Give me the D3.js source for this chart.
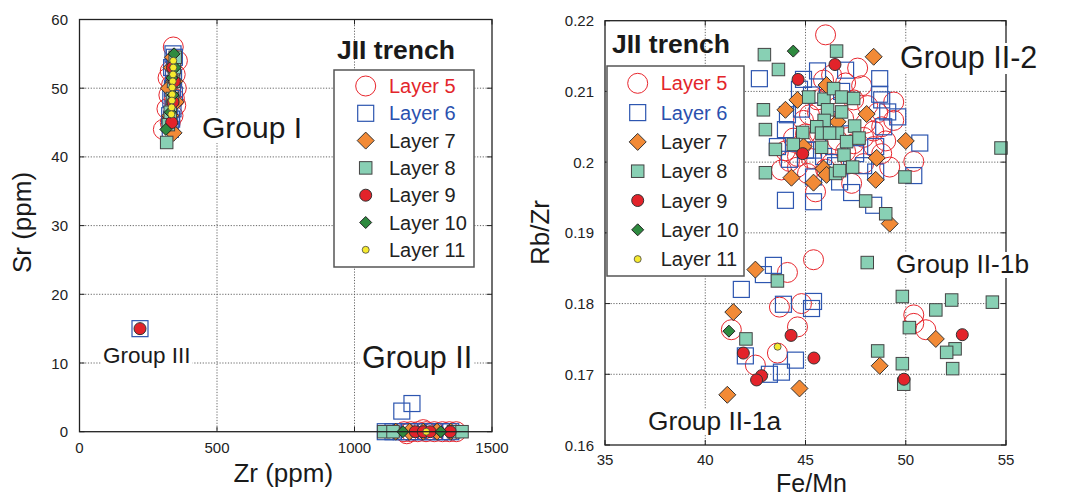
<!DOCTYPE html>
<html>
<head>
<meta charset="utf-8">
<script src="https://cdn.jsdelivr.net/npm/d3@7"></script>
<style>
  body { margin: 0; background: #fff; }
  svg text { font-family: "Liberation Sans", Arial, Helvetica, sans-serif; }
</style>
</head>
<body>
<div id="chart"></div>
<script>
// ---- data ----
var layerNames = ["Layer 5", "Layer 6", "Layer 7", "Layer 8", "Layer 9", "Layer 10", "Layer 11"];

// left panel: [Zr, Sr]
var zrSrL5 = [[341,56],[356,54],[330,52.5],[348,52],[322,51.5],[352,50],[325,49],[345,48.5],[318,47],[340,46],[305,44],[330,45],[350,47.5],[335,50.5],
  [1180,0],[1205,0],[1230,0],[1260,0],[1290,0],[1320,0],[1345,0],[1370,0],[1190,-0.3],[1250,0.3]];
var zrSrL6 = [[330,44],[335,45.5],[340,47],[332,48.5],[338,50],[342,51.5],[335,53],[345,54.5],[328,46],[345,49],[340,55],
  [220,15],
  [1112,0],[1140,0],[1170,0],[1200,0],[1230,0],[1260,0],[1290,0],[1320,0],[1350,0],[1172,3],[1209,4.1]];
var zrSrL7 = [[342,43.5],[330,46],[350,48],[325,50],[345,51],[335,53],[340,54.5],
  [1150,0],[1200,0],[1250,0],[1300,0],[1350,0]];
var zrSrL8 = [[317,42.1],[323,44.7],[330,46.5],[338,48.5],[342,51],[345,53],[348,54.5],
  [1106,0],[1140,0],[1360,0],[1391,0]];
var zrSrL9 = [[335,45],[340,48],[345,51],[338,53],
  [220,15],
  [1221,0],[1250,0],[1275,0],[1348,0]];
var zrSrL10 = [[344,55],[348,53],[314,44],[330,46.5],[340,49],[336,51.5],
  [1176,0],[1314,0]];
var zrSrL11 = [[341,54],[341,53],[340,52],[339,51],[337,50.1],[337,49.1],[336,48.2],[335,47.2],[334,46.2],
  [1261,0]];

// right panel: [Fe/Mn, Rb/Zr]
var feMnL5 = [[46.0,0.2180],[47.6,0.2133],[45.9,0.2116],[46.3,0.2123],[47.8,0.2108],[47.0,0.2112],[49.4,0.2085],[48.8,0.2050],[49.4,0.2059],
  [45.2,0.2067],[44.9,0.2059],[45.6,0.2070],[48.4,0.2044],[48.4,0.2022],[50.4,0.2001],[49.2,0.1993],[43.8,0.1989],[44.6,0.1993],[44.2,0.2001],
  [45.1,0.1984],[47.3,0.1970],[45.5,0.1958],[47.9,0.1998],[48.8,0.2012],[45.7,0.2041],[44.4,0.2034],[46.6,0.2031],[47.4,0.2026],[46.6,0.2078],
  [45.6,0.2088],[47.4,0.2088],[48.0,0.2055],[44.6,0.2008],[46.3,0.1998],[48.1,0.2080],[46.9,0.2062],[49.0,0.2030],[44.0,0.2016],[45.3,0.2005],
  [47.0,0.2015],[48.6,0.2070],[46.2,0.2095],[45.0,0.2040],[47.9,0.2035],[46.0,0.1990],[44.8,0.2025],
  [45.4,0.1862],[44.1,0.1844],[43.7,0.1795],[44.8,0.1800],[44.6,0.1767],[41.3,0.1763],[42.5,0.1713],[43.6,0.1730],[50.4,0.1784],[50.4,0.1772],[51.0,0.1763]];
var feMnL6 = [[42.7,0.2118],[44.9,0.2117],[45.6,0.2129],[47.0,0.2130],[48.7,0.2118],[44.7,0.2103],[48.7,0.2096],[48.8,0.2088],[44.1,0.2067],
  [44.0,0.2046],[49.1,0.2071],[49.6,0.2064],[50.7,0.2027],[43.6,0.2022],[44.2,0.2004],[45.0,0.2017],[45.4,0.2017],[48.5,0.2022],[50.4,0.1981],
  [48.5,0.1986],[45.4,0.1979],[46.7,0.1972],[47.3,0.1957],[44.0,0.1946],[45.4,0.1944],[48.4,0.1939],[46.4,0.2022],[45.9,0.2008],[47.5,0.2012],
  [46.2,0.2060],[47.2,0.2040],[45.3,0.2095],[46.8,0.2100],[44.8,0.2075],[48.9,0.2050],[47.9,0.1995],[46.5,0.1995],
  [43.4,0.1854],[42.9,0.1841],[41.8,0.1820],[43.9,0.1799],[45.4,0.1803],[45.3,0.1793],[42.0,0.1726],[44.5,0.1720],[43.8,0.1703],[43.2,0.1700]];
var feMnL7 = [[48.4,0.2149],[46.05,0.2109],[44.6,0.2088],[44.0,0.2074],[48.05,0.2068],[46.6,0.2057],[50.0,0.2030],[44.9,0.2022],[48.55,0.2006],
  [45.9,0.1991],[44.3,0.1978],[45.4,0.1971],[48.5,0.1975],[46.05,0.1982],[49.2,0.1913],
  [42.5,0.1848],[41.4,0.1788],[51.5,0.1750],[48.7,0.1712],[41.1,0.1671],[44.7,0.1680]];
var feMnL8 = [[42.95,0.2152],[43.65,0.2131],[46.55,0.2157],[42.9,0.2074],[43.0,0.2046],[43.5,0.2018],[43.0,0.1985],[45.16,0.2092],[45.92,0.2089],
  [46.4,0.2104],[46.8,0.2092],[47.4,0.2090],[46.1,0.2074],[46.8,0.2071],[45.93,0.2059],[45.56,0.2050],[44.86,0.2042],[45.8,0.2041],[46.6,0.2041],
  [47.45,0.2051],[44.39,0.2025],[45.8,0.2021],[47.05,0.2029],[47.67,0.2034],[46.92,0.2010],[46.2,0.2041],[46.5,0.1984],[46.7,0.1988],[47.35,0.1993],
  [49.96,0.1979],[48.0,0.1945],[49.0,0.1927],[54.75,0.2020],
  [48.08,0.1858],[43.6,0.1832],[49.83,0.1810],[52.29,0.1805],[51.5,0.1791],[54.32,0.1802],[50.18,0.1766],[42.03,0.1750],[48.6,0.1733],
  [52.46,0.1736],[52.04,0.1731],[49.83,0.1715],[52.34,0.1708],[49.9,0.1686]];
var feMnL9 = [[46.47,0.2138],[44.63,0.2117],[44.86,0.2012],[44.28,0.1755],[41.9,0.1730],[45.42,0.1723],[42.81,0.1698],[42.56,0.1692],[49.91,0.1693],[52.82,0.1756]];
var feMnL10 = [[44.39,0.2157],[41.18,0.1761]];
var feMnL11 = [[43.61,0.1739]];

var xTicksZr = [0, 500, 1000, 1500];
var yTicksSr = [0, 10, 20, 30, 40, 50, 60];
var xTicksFeMn = [35, 40, 45, 50, 55];
var yTicksRbZr = [0.16, 0.17, 0.18, 0.19, 0.2, 0.21, 0.22];
var yTickLabelsRbZr = ["0.16", "0.17", "0.18", "0.19", "0.2", "0.21", "0.22"];

// ---- marker styles ----
var styles = [
  { shape: "circle",  size: 10,  fill: "none",    stroke: "#e8262d", sw: 1,   text: "#e3252b" },
  { shape: "square",  size: 16,  fill: "none",    stroke: "#2d56b0", sw: 1.2, text: "#2a50ae" },
  { shape: "diamond", size: 8.5, fill: "#f28a36", stroke: "#333",    sw: 1,   text: "#222" },
  { shape: "square",  size: 12.5,fill: "#88d0b4", stroke: "#444",    sw: 1,   text: "#222" },
  { shape: "circle",  size: 6,   fill: "#e3232a", stroke: "#333",    sw: 1,   text: "#222" },
  { shape: "diamond", size: 6,   fill: "#2e8a3f", stroke: "#222",    sw: 1,   text: "#222" },
  { shape: "circle",  size: 3.5, fill: "#f6ea2e", stroke: "#444",    sw: 0.8, text: "#222" }
];

var width = 1073, height = 498;
var svg = d3.select("#chart").append("svg")
  .attr("width", width)
  .attr("height", height)
  .attr("viewBox", `0 0 ${width} ${height}`);

function marker(g, st, x, y) {
  var m;
  if (st.shape == "circle") {
    m = g.append("circle").attr("cx", x).attr("cy", y).attr("r", st.size);
  } else if (st.shape == "square") {
    m = g.append("rect").attr("x", x - st.size / 2).attr("y", y - st.size / 2)
      .attr("width", st.size).attr("height", st.size);
  } else {
    var h = st.size;
    m = g.append("path").attr("d", `M${x},${y - h}L${x + h},${y}L${x},${y + h}L${x - h},${y}Z`);
  }
  m.attr("fill", st.fill).attr("stroke", st.stroke).attr("stroke-width", st.sw);
}

function label(g, txt, x, y, size, weight, bg) {
  var t = g.append("text")
    .attr("x", x).attr("y", y)
    .attr("font-size", size)
    .attr("font-weight", weight || "normal")
    .attr("fill", "#1a1a1a")
    .text(txt);
  if (bg) {
    var b = t.node().getBBox();
    g.insert("rect", function() { return t.node(); })
      .attr("x", b.x - 2).attr("y", b.y + 3)
      .attr("width", b.width + 4).attr("height", b.height - 4)
      .attr("fill", "#fff");
  }
  return t;
}

function panel(o) {
  var x = d3.scaleLinear().domain(o.xDomain).range([o.left, o.right]);
  var y = d3.scaleLinear().domain(o.yDomain).range([o.bottom, o.top]);
  var g = svg.append("g");

  // grid
  g.selectAll(null).data(o.xTicks.slice(1, -1)).enter().append("line")
    .attr("x1", d => x(d)).attr("x2", d => x(d))
    .attr("y1", o.top).attr("y2", o.bottom)
    .attr("stroke", "#555").attr("stroke-width", 0.9).attr("stroke-dasharray", "1.2,1.6");
  g.selectAll(null).data(o.yTicks.slice(1, -1)).enter().append("line")
    .attr("y1", d => y(d)).attr("y2", d => y(d))
    .attr("x1", o.left).attr("x2", o.right)
    .attr("stroke", "#555").attr("stroke-width", 0.9).attr("stroke-dasharray", "1.2,1.6");

  // inward ticks
  var tl = 5;
  o.xTicks.forEach(function(d) {
    g.append("line").attr("x1", x(d)).attr("x2", x(d)).attr("y1", o.bottom).attr("y2", o.bottom - tl).attr("stroke", "#222");
    g.append("line").attr("x1", x(d)).attr("x2", x(d)).attr("y1", o.top).attr("y2", o.top + tl).attr("stroke", "#222");
  });
  o.yTicks.forEach(function(d) {
    g.append("line").attr("y1", y(d)).attr("y2", y(d)).attr("x1", o.left).attr("x2", o.left + tl).attr("stroke", "#222");
    g.append("line").attr("y1", y(d)).attr("y2", y(d)).attr("x1", o.right).attr("x2", o.right - tl).attr("stroke", "#222");
  });

  // tick labels
  g.selectAll(null).data(o.xTicks).enter().append("text")
    .attr("x", d => x(d)).attr("y", o.xLabelY)
    .attr("text-anchor", "middle").attr("font-size", 15).attr("fill", "#222")
    .text((d, i) => o.xLabels ? o.xLabels[i] : d);
  g.selectAll(null).data(o.yTicks).enter().append("text")
    .attr("x", o.yLabelX).attr("y", d => y(d) + 5.5)
    .attr("text-anchor", "end").attr("font-size", 15).attr("fill", "#222")
    .text((d, i) => o.yLabels ? o.yLabels[i] : d);

  // axis titles
  g.append("text").attr("x", (o.left + o.right) / 2 + o.xTitleDx).attr("y", o.xTitleY)
    .attr("text-anchor", "middle").attr("font-size", o.xTitleSize).attr("fill", "#1a1a1a").text(o.xTitle);
  g.append("text")
    .attr("transform", `translate(${o.yTitleX},${o.yTitleCy}) rotate(-90)`)
    .attr("text-anchor", "middle").attr("font-size", 26).attr("fill", "#1a1a1a").text(o.yTitle);

  // points
  var pts = g.append("g");
  o.series.forEach(function(s, i) {
    s.forEach(function(d) { marker(pts, styles[i], x(d[0]), y(d[1])); });
  });

  // frame
  g.append("rect").attr("x", o.left).attr("y", o.top)
    .attr("width", o.right - o.left).attr("height", o.bottom - o.top)
    .attr("fill", "none").attr("stroke", "#222").attr("stroke-width", 1.3);

  // group labels
  o.groups.forEach(function(d) { label(g, d.t, d.x, d.y, d.s, "normal", true); });

  // title + legend
  label(g, "JII trench", o.titleX, o.titleY, 26.5, "bold", false);
  var lg = o.legend;
  g.append("rect").attr("x", lg.x0).attr("y", lg.y0)
    .attr("width", lg.x1 - lg.x0).attr("height", lg.y1 - lg.y0)
    .attr("fill", "#fff").attr("stroke", "#555").attr("stroke-width", 1.5);
  layerNames.forEach(function(n, i) {
    var cy = lg.row0 + i * lg.step;
    marker(g, styles[i], lg.sx, cy);
    g.append("text").attr("x", lg.tx).attr("y", cy + 7)
      .attr("font-size", 20).attr("fill", styles[i].text).text(n);
  });
}

panel({
  xDomain: [0, 1500], yDomain: [0, 60],
  left: 79.5, right: 492, top: 19.5, bottom: 431.7,
  xTicks: xTicksZr, yTicks: yTicksSr,
  xLabelY: 453, yLabelX: 68,
  xTitle: "Zr (ppm)", xTitleY: 482, xTitleDx: -2.5, xTitleSize: 26,
  yTitle: "Sr (ppm)", yTitleX: 30.5, yTitleCy: 222.5,
  series: [zrSrL5, zrSrL6, zrSrL7, zrSrL8, zrSrL9, zrSrL10, zrSrL11],
  groups: [
    { t: "Group I", x: 202, y: 138, s: 30 },
    { t: "Group II", x: 362, y: 368, s: 30.5 },
    { t: "Group III", x: 103, y: 363, s: 22.5 }
  ],
  titleX: 337, titleY: 59,
  legend: { x0: 334, x1: 474, y0: 70, y1: 267, row0: 86, step: 27.3, sx: 365.7, tx: 389 }
});

panel({
  xDomain: [35, 55], yDomain: [0.16, 0.22],
  left: 605, right: 1006, top: 20.7, bottom: 445,
  xTicks: xTicksFeMn, yTicks: yTicksRbZr, yLabels: yTickLabelsRbZr,
  xLabelY: 465, yLabelX: 594,
  xTitle: "Fe/Mn", xTitleY: 492, xTitleDx: 6, xTitleSize: 25,
  yTitle: "Rb/Zr", yTitleX: 549, yTitleCy: 232.5,
  series: [feMnL5, feMnL6, feMnL7, feMnL8, feMnL9, feMnL10, feMnL11],
  groups: [
    { t: "Group II-2", x: 900, y: 68, s: 30.5 },
    { t: "Group II-1b", x: 896, y: 273, s: 26.3 },
    { t: "Group II-1a", x: 648, y: 430, s: 26.3 }
  ],
  titleX: 612, titleY: 53,
  legend: { x0: 607, x1: 744, y0: 66, y1: 276, row0: 83.3, step: 29.3, sx: 637.7, tx: 660.7 }
});
</script>
</body>
</html>
